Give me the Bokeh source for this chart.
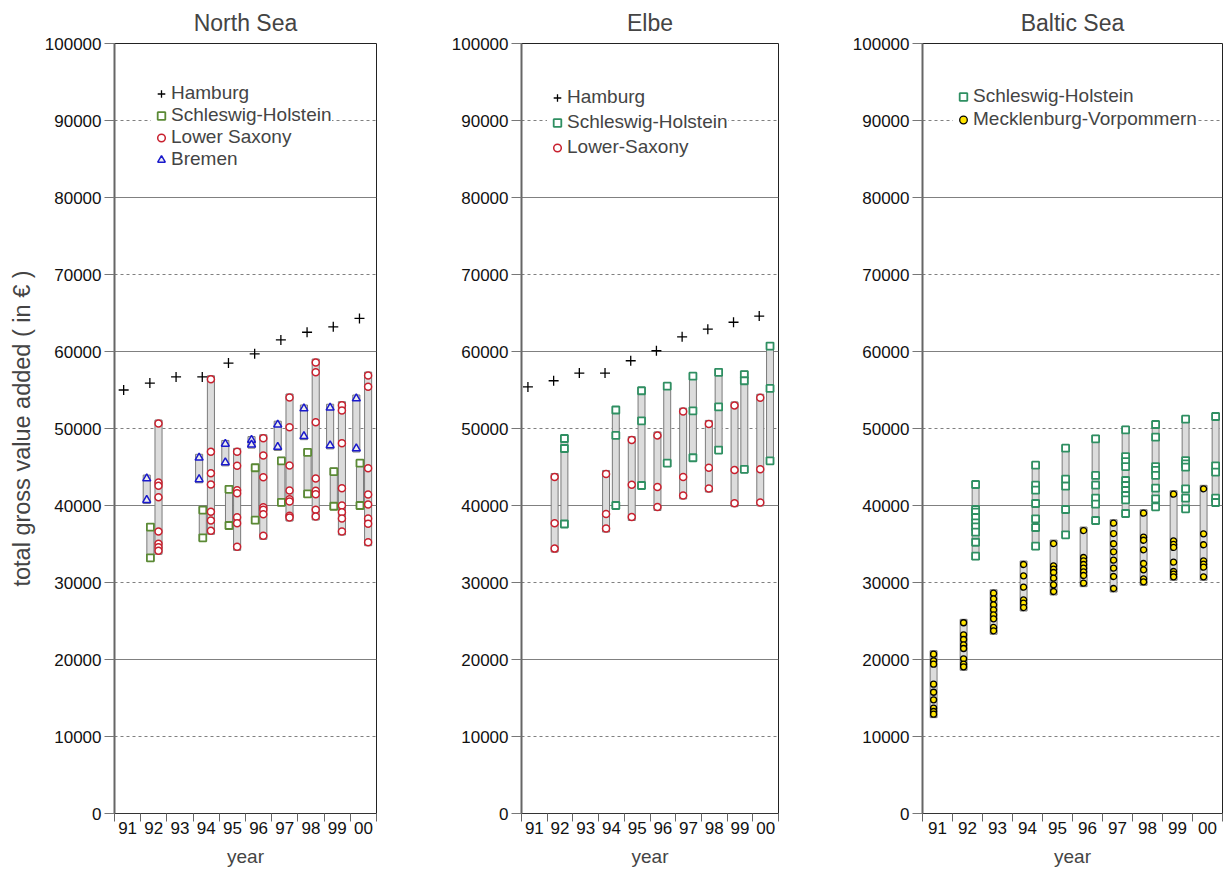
from bokeh.embed import file_html
from bokeh.resources import INLINE
from bokeh.layouts import row
from bokeh.models import FixedTicker, Grid, Legend, LegendItem, BasicTickFormatter
from bokeh.plotting import figure

# years on the x axis
years = ["91", "92", "93", "94", "95", "96", "97", "98", "99", "00"]
y_ticks = list(range(0, 100001, 10000))
solid_grid = [20000, 40000, 60000, 80000]
dashed_grid = [10000, 30000, 50000, 70000, 90000]

# ---- North Sea ----
ns_hamburg = [55000, 55900, 56700, 56700, 58500, 59700, 61500, 62500, 63200, 64300]
ns_bremen = [[], [43500, 40700], [], [46200, 43400], [48000, 45600], [48500, 47900],
             [50500, 47600], [52600, 49000], [52700, 47800], [53900, 47400]]
ns_sh = [[], [37200, 33200], [], [39400, 35800], [42100, 37400], [44900, 38100],
         [45800, 40400], [46900, 41500], [44400, 39900], [45500, 40000]]
ns_ls = [[],
         [50650, 42990, 42550, 41080, 36620, 35030, 34590, 34120],
         [],
         [56400, 46970, 44190, 42730, 39180, 38050, 36710],
         [46970, 45150, 41990, 41600, 38480, 37700, 34630],
         [48740, 46490, 43680, 39780, 39440, 38870, 36060],
         [54030, 50170, 45190, 41950, 40820, 40520, 38660, 38440],
         [58570, 57320, 50820, 43510, 41910, 41470, 39440, 38570],
         [53030, 52340, 48100, 42250, 40000, 39130, 38310, 36620],
         [56880, 55410, 44850, 41430, 40130, 38310, 37620, 35230]]

# ---- Elbe ----
el_hamburg = [55400, 56200, 57200, 57200, 58800, 60100, 61900, 62900, 63800, 64600]
el_sh = [[], [48700, 47400, 37600], [], [52400, 49100, 40000], [54900, 51000, 42600],
         [55500, 45500], [56800, 52300, 46200], [57300, 52800, 47200],
         [57000, 56200, 44700], [60700, 55200, 45800]]
el_ls = [[], [43700, 37700, 34400], [], [44100, 38900, 37000], [48500, 42700, 38500],
         [49100, 42400, 39800], [52200, 43700, 41300], [50600, 44900, 42200],
         [53000, 44600, 40300], [54000, 44700, 40400]]

# ---- Baltic Sea ----
bs_sh = [[],
         [42730, 39480, 39130, 38440, 37750, 37230, 36530, 35230, 33420],
         [],
         [45240, 42640, 41990, 40260, 38270, 37140, 34720],
         [47440, 43420, 42510, 39480, 36190],
         [48660, 43900, 42640, 40950, 40170, 38050],
         [49830, 46360, 45710, 45060, 43250, 42600, 41950, 41300, 40740, 38960],
         [50520, 48870, 45060, 44550, 43900, 42250, 40870, 39830],
         [51210, 45840, 45410, 44980, 42170, 40950, 39570],
         [51560, 45150, 44330, 40950, 40390]]
bs_mv = [[20690, 19830, 19390, 16790, 15750, 14760, 13680, 13250, 12900],
         [24770, 23210, 22600, 21910, 21430, 20090, 19390, 19050],
         [28610, 27880, 27100, 26450, 25800, 25280, 24160, 23730],
         [32340, 30870, 29390, 27750, 27310, 26750],
         [35060, 32170, 31730, 31300, 30560, 29700, 28830],
         [36750, 33250, 32820, 32340, 31860, 31390, 30910, 29910],
         [37700, 36360, 35030, 33990, 32900, 31860, 30780, 29220],
         [39000, 35890, 35490, 34250, 32470, 31650, 30480, 30090],
         [41470, 35410, 34940, 34550, 32640, 31430, 31080, 30740],
         [42170, 36320, 34900, 32820, 32380, 31990, 30740]]

FONT = "Liberation Sans"
PAD = 450  # bar sticks out a little past the extreme markers


def make_panel(title, frame_w, border_left, border_right, ylabel=None):
    p = figure(title=title, frame_width=frame_w, frame_height=770,
               x_range=(0.5, 10.5), y_range=(0, 100000),
               output_backend="svg", toolbar_location=None,
               min_border_left=border_left, min_border_right=border_right,
               min_border_top=42, min_border_bottom=10)
    p.title.text_font = FONT
    p.title.text_font_size = "23px"
    p.title.text_font_style = "normal"
    p.title.align = "center"
    p.title.standoff = 15
    p.outline_line_color = "#222222"
    p.outline_line_width = 1

    p.xaxis.ticker = FixedTicker(ticks=list(range(1, 11)),
                                 minor_ticks=[i + 0.5 for i in range(11)])
    p.xaxis.major_label_overrides = {i + 1: y for i, y in enumerate(years)}
    p.xaxis.major_tick_out = 0
    p.xaxis.major_tick_in = 0
    p.xaxis.minor_tick_out = 8
    p.xaxis.minor_tick_in = 0
    p.xaxis.minor_tick_line_color = "#666666"
    p.xaxis.major_label_standoff = 0
    p.xaxis.major_label_text_font = FONT
    p.xaxis.major_label_text_font_size = "17px"
    p.xaxis.major_label_text_color = "#111111"
    p.xaxis.axis_line_color = "#333333"
    p.xaxis.axis_label = "year"
    p.xaxis.axis_label_text_font = FONT
    p.xaxis.axis_label_text_font_size = "19px"
    p.xaxis.axis_label_text_font_style = "normal"
    p.xaxis.axis_label_standoff = 9

    p.yaxis.ticker = FixedTicker(ticks=y_ticks)
    p.yaxis.formatter = BasicTickFormatter(use_scientific=False)
    p.yaxis.major_tick_out = 10
    p.yaxis.major_tick_in = 0
    p.yaxis.major_tick_line_color = "#777777"
    p.yaxis.minor_tick_line_color = None
    p.yaxis.major_label_standoff = 3
    p.yaxis.major_label_text_font = FONT
    p.yaxis.major_label_text_font_size = "17px"
    p.yaxis.major_label_text_color = "#111111"
    p.yaxis.axis_line_color = "#666666"
    p.yaxis.axis_line_width = 2
    if ylabel:
        p.yaxis.axis_label = ylabel
        p.yaxis.axis_label_text_font = FONT
        p.yaxis.axis_label_text_font_size = "23.5px"
        p.yaxis.axis_label_text_font_style = "normal"
        p.yaxis.axis_label_standoff = 7

    p.xgrid.visible = False
    p.ygrid.ticker = FixedTicker(ticks=solid_grid)
    p.ygrid.grid_line_color = "#808080"
    p.add_layout(Grid(dimension=1, ticker=FixedTicker(ticks=dashed_grid),
                      grid_line_color="#808080", grid_line_dash="3 3"))
    return p


def add_bars(p, groups, offset, bar_w):
    bx, btop, bbot = [], [], []
    for i, vals in enumerate(groups):
        if vals:
            bx.append(i + 1 + offset)
            btop.append(max(vals) + PAD)
            bbot.append(min(vals) - PAD)
    p.vbar(x=bx, top=btop, bottom=bbot, width=bar_w,
           fill_color="#dcdcdc", line_color="#7a7a7a", line_width=1)


def add_points(p, groups, offset, **style):
    px, py = [], []
    for i, vals in enumerate(groups):
        for v in vals:
            px.append(i + 1 + offset)
            py.append(v)
    return p.scatter(px, py, **style)


def add_hamburg(p, values, offset):
    xs = [i + 1 + offset for i in range(len(values))]
    return p.scatter(xs, values, marker="cross", size=10, line_color="black", line_width=1.3)


def make_legend(items, loc, spacing):
    return Legend(items=items, location=loc, background_fill_color="white",
                  background_fill_alpha=1, border_line_color=None,
                  label_text_font=FONT, label_text_font_size="19px",
                  label_text_line_height=1.0,
                  glyph_width=20, glyph_height=19, label_height=19,
                  label_standoff=0, padding=18, spacing=spacing, margin=0)


sh_ns = dict(marker="square", size=7, line_color="#5b8a35", fill_color="white", line_width=1.8)
sh_green = dict(marker="square", size=7, line_color="#2f8f62", fill_color="white", line_width=1.8)
ls_style = dict(marker="circle", size=7, line_color="#c8202e", fill_color="white", line_width=1.5)
hb_style = dict(marker="triangle", size=8, line_color="#1a1acc", fill_color="#eeeeee", line_width=1.5)
mv_style = dict(marker="circle", size=6, line_color="black", fill_color="#ffe400", line_width=1.3)

# North Sea panel
p1 = make_panel("North Sea", 262, 114, 4, "total gross value added ( in € )")
add_bars(p1, ns_bremen, -0.27, 0.27)
add_bars(p1, ns_sh, -0.13, 0.27)
add_bars(p1, ns_ls, 0.18, 0.27)
r_h1 = add_hamburg(p1, ns_hamburg, -0.15)
r_sh1 = add_points(p1, ns_sh, -0.13, **sh_ns)
r_ls1 = add_points(p1, ns_ls, 0.18, **ls_style)
r_hb1 = add_points(p1, ns_bremen, -0.27, **hb_style)
p1.add_layout(make_legend([LegendItem(label="Hamburg", renderers=[r_h1]),
                           LegendItem(label="Schleswig-Holstein", renderers=[r_sh1]),
                           LegendItem(label="Lower Saxony", renderers=[r_ls1]),
                           LegendItem(label="Bremen", renderers=[r_hb1])],
                          (37, 643), 0))

# Elbe panel
p2 = make_panel("Elbe", 257, 141, 4)
add_bars(p2, el_ls, -0.21, 0.27)
add_bars(p2, el_sh, 0.17, 0.27)
r_h2 = add_hamburg(p2, el_hamburg, -0.25)
r_sh2 = add_points(p2, el_sh, 0.17, **sh_green)
r_ls2 = add_points(p2, el_ls, -0.21, **ls_style)
p2.add_layout(make_legend([LegendItem(label="Hamburg", renderers=[r_h2]),
                           LegendItem(label="Schleswig-Holstein", renderers=[r_sh2]),
                           LegendItem(label="Lower-Saxony", renderers=[r_ls2])],
                          (26, 655), 3))

# Baltic Sea panel
p3 = make_panel("Baltic Sea", 300, 140, 2)
add_bars(p3, bs_mv, -0.13, 0.23)
add_bars(p3, bs_sh, 0.27, 0.23)
r_sh3 = add_points(p3, bs_sh, 0.27, **sh_green)
r_mv3 = add_points(p3, bs_mv, -0.13, **mv_style)
p3.add_layout(make_legend([LegendItem(label="Schleswig-Holstein", renderers=[r_sh3]),
                           LegendItem(label="Mecklenburg-Vorpommern", renderers=[r_mv3])],
                          (31, 683), 1))

layout = row(p1, p2, p3)
open("out.html", "w").write(file_html(layout, INLINE))
